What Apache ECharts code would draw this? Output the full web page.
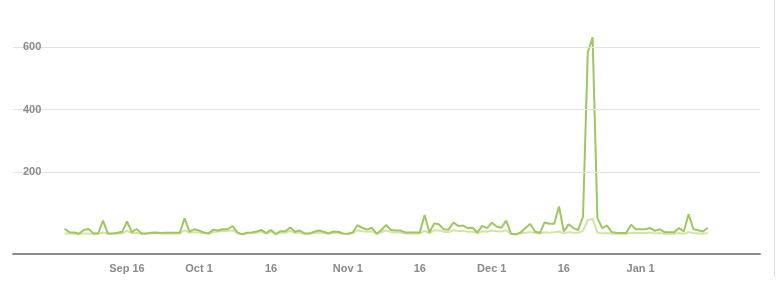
<!DOCTYPE html>
<html>
<head>
<meta charset="utf-8">
<script src="https://cdn.jsdelivr.net/npm/echarts@6/dist/echarts.min.js"></script>
<style>
html,body{margin:0;padding:0;background:#fff;}
#chart{width:777px;height:282px;}
</style>
</head>
<body>
<div id="chart"></div>
<script>
// Day offsets relative to Sep 16; data runs Sep 3 .. Jan 15
var startDay = -13;
var totalSeries = [19,8,7,3,15,18,4,4,45,4,4,6,9,
  42,8,18,4,4,6,7,5,6,6,6,6,52,10,17,13,7,4,16,13,17,18,27,7,1,6,7,10,15,5,15,2,11,11,23,9,13,4,4,9,13,
  9,4,10,9,4,3,7,30,22,16,22,3,15,31,15,13,13,7,7,7,7,63,7,36,33,17,16,39,28,29,21,22,7,28,21,38,26,22,45,3,1,7,21,34,10,5,39,35,35,90,
  10,33,21,15,58,584,632,53,21,29,8,6,5,5,32,17,17,17,21,12,17,8,8,8,21,10,65,17,14,10,22];
var uniqueSeries = [4,4,3,3,4,4,3,3,6,3,3,4,4,
  12,5,6,3,3,4,5,4,3,4,4,4,14,6,8,7,5,3,8,10,12,12,14,5,1,4,5,6,9,3,9,1,6,6,12,5,7,3,3,5,7,
  5,3,6,5,3,2,4,14,11,9,11,2,8,13,8,7,7,4,4,4,4,12,4,14,13,9,8,14,12,12,9,10,4,11,9,13,11,10,14,2,1,4,6,8,5,4,7,7,8,10,
  4,8,6,6,12,46,51,6,4,5,3,3,3,3,6,5,5,5,7,4,5,3,3,3,5,3,8,5,4,3,5];
var xTickDays = [0,15,30,46,61,76,91,107];
var xTickLabels = ['Sep 16','Oct 1','16','Nov 1','16','Dec 1','16','Jan 1'];
var yTicks = [200,400,600];

function pairs(arr){
  return arr.map(function(v,i){ return [startDay+i, v]; });
}

var chart = echarts.init(document.getElementById('chart'));
chart.setOption({
  animation:false,
  backgroundColor:'#fff',
  grid:{left:13,right:17,top:30,bottom:28,containLabel:false},
  xAxis:{
    type:'value',
    min:-23.75,
    max:131.875,
    splitLine:{show:false},
    axisTick:{show:false},
    axisLine:{show:true,onZero:false,lineStyle:{color:'#8c8c8c',width:2}},
    axisLabel:{
      customValues:xTickDays,
      margin:9,
      color:'#8a8a8a',
      fontFamily:'Liberation Sans, Arial, sans-serif',
      fontSize:11,
      fontWeight:'bold',
      formatter:function(v){
        var i = xTickDays.indexOf(Math.round(v));
        return i>=0 ? xTickLabels[i] : '';
      }
    }
  },
  yAxis:{
    type:'value',
    min:-62,
    max:655,
    z:5,
    splitLine:{show:false},
    axisTick:{show:false},
    axisLine:{show:false},
    axisLabel:{
      customValues:yTicks,
      inside:true,
      margin:10,
      color:'#8a8a8a',
      fontFamily:'Liberation Sans, Arial, sans-serif',
      fontSize:11,
      fontWeight:'bold'
    }
  },
  graphic:[{
    type:'line',
    shape:{x1:774.5,y1:0,x2:774.5,y2:277},
    style:{stroke:'#dddddd',lineWidth:1},
    silent:true
  }],
  series:[
    {
      type:'line',
      data:pairs(uniqueSeries),
      showSymbol:false,
      lineStyle:{color:'#cfe6a6',width:2},
      itemStyle:{color:'#cfe6a6'},
      z:2,
      markLine:{
        silent:true,
        symbol:['none','none'],
        label:{show:false},
        lineStyle:{color:'#e2e2e2',width:1,type:'solid'},
        data:yTicks.map(function(t){return {yAxis:t};}),
        animation:false
      }
    },
    {
      type:'line',
      data:pairs(totalSeries),
      showSymbol:false,
      lineStyle:{color:'#9ec760',width:2},
      itemStyle:{color:'#9ec760'},
      z:3
    }
  ]
});
</script>
</body>
</html>
